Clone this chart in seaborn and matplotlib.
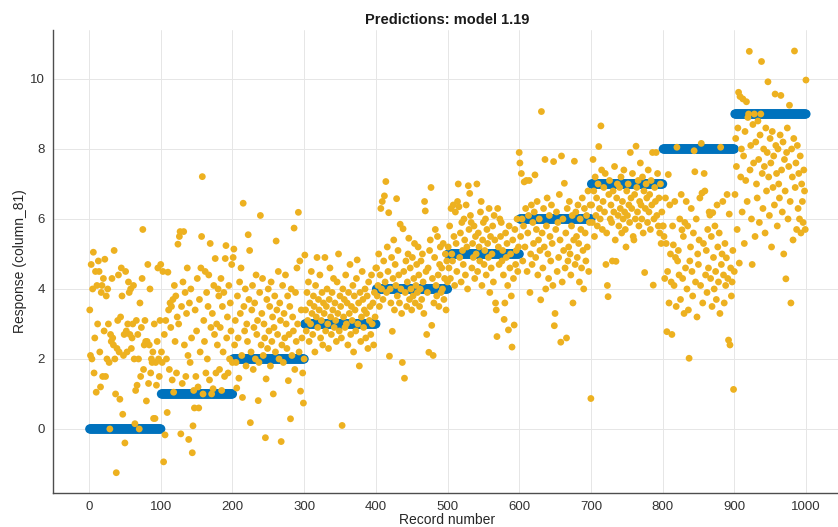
import numpy as np
import pandas as pd
import matplotlib
matplotlib.use("Agg")
import matplotlib.pyplot as plt
import seaborn as sns

# ---------------- data ----------------
seg0 = [3.4, 2.1, 4.7, 2.0, 4.0, 5.05, 1.6, 2.6, 4.5, 1.05,
        4.1, 3.0, 4.8, 4.5, 2.2, 1.2, 3.9, 4.1, 1.5, 4.3,
        2.8, 4.85, 1.5, 3.8, 2.0, 4.0, 3.0, 1.9, 0.0, 2.7,
        2.5, 4.3, 2.6, 2.4, 5.1, 2.0, 1.0, -1.25, 2.3, 3.1,
        4.4, 2.2, 0.85, 3.2, 4.6, 3.8, 0.42, 2.1, 2.7, -0.4,
        4.5, 2.8, 2.2, 3.0, 4.2, 3.9, 2.7, 4.0, 2.3, 2.6,
        3.0, 4.1, 2.0, 0.15, 1.1, 3.1, 1.25, 2.7, 2.0, 0.0,
        3.6, 1.5, 2.9, 4.3, 5.7, 1.7, 2.4, 3.1, 2.5, 0.8,
        2.5, 4.7, 1.3, 2.4, 4.0, 1.6, 2.0, 1.9, 2.2, 0.3,
        3.0, 0.3, 1.9, 1.25, 2.5, 4.6, 2.0, 1.5, 3.1, 4.7]
seg1 = [2.2, 1.9, 4.5, -0.94, 2.7, -0.17, 3.1, 2.0, 0.47, 4.48,
        3.4, 1.7, 3.6, 2.9, 3.5, 1.4, 3.7, 1.05, 4.1, 2.5,
        3.8, 1.6, 3.2, 5.28, 3.0, 5.5, 5.64, -0.14, 3.5, 1.3,
        4.2, 5.64, 2.4, 3.9, 1.5, 3.3, 4.6, 2.1, -0.3, 3.6,
        1.9, 4.0, 2.6, -0.68, 0.09, 1.1, 0.6, 3.4, 1.5, 2.8,
        4.3, 1.2, 0.6, 3.7, 2.2, 4.6, 5.5, 7.21, 1.0, 3.1,
        2.5, 4.5, 1.6, 3.9, 2.0, 3.5, 4.4, 1.4, 5.3, 2.9,
        1.0, 3.3, 1.15, 4.1, 2.7, 4.87, 1.6, 3.0, 2.4, 4.0,
        3.8, 1.7, 2.9, 4.3, 1.1, 3.5, 2.2, 3.9, 1.5, 4.87,
        5.24, 2.6, 3.2, 1.6, 4.1, 2.0, 3.6, 2.8, 4.7, 1.9]
seg2 = [4.9, 5.14, 2.4, 3.1, 1.9, 1.17, 3.8, 2.6, 1.45, 4.2,
        3.3, 4.6, 2.1, 0.9, 6.45, 3.5, 2.8, 4.0, 1.8, 3.0,
        2.5, 5.55, 3.7, 5.1, 0.18, 2.2, 3.4, 4.1, 1.7, 2.9,
        3.6, 2.0, 4.4, 2.7, 3.1, 0.81, 1.9, 3.9, 6.1, 2.4,
        3.3, 4.3, 2.1, 3.0, 2.6, -0.25, 1.43, 3.7, 2.3, 4.0,
        2.8, 3.5, 1.8, 4.2, 2.5, 3.2, 1.0, 2.9, 3.8, 2.2,
        5.37, 3.4, 2.7, 4.5, 2.0, 3.6, 3.1, -0.36, 2.4, 4.1,
        1.9, 3.3, 2.6, 4.4, 3.0, 2.3, 3.8, 1.38, 2.7, 3.5,
        0.29, 4.0, 2.1, 3.2, 2.8, 5.74, 1.7, 3.9, 2.5, 4.6,
        3.0, 6.19, 2.2, 4.8, 1.08, 3.4, 2.6, 1.6, 0.74, 2.0]
seg3 = [4.97, 3.4, 2.8, 3.9, 3.1, 4.2, 2.5, 3.6, 3.0, 4.5,
        3.3, 2.7, 3.8, 3.5, 2.2, 4.1, 3.2, 4.9, 2.9, 3.7,
        3.4, 4.4, 2.6, 3.1, 3.9, 2.4, 3.6, 3.3, 4.9, 2.8,
        3.5, 4.0, 3.0, 2.3, 3.7, 4.6, 3.2, 2.7, 3.9, 3.4,
        4.3, 2.9, 3.6, 3.1, 2.5, 4.2, 3.3, 5.0, 2.8, 3.8,
        3.5, 2.6, 0.1, 4.0, 3.2, 3.7, 2.9, 4.4, 3.0, 3.6,
        2.4, 3.9, 3.3, 4.7, 2.7, 3.5, 3.1, 4.1, 2.2, 3.8,
        3.4, 2.8, 4.3, 4.83, 3.0, 3.6, 1.8, 3.9, 2.5, 3.2,
        4.5, 3.7, 2.9, 3.4, 4.0, 2.6, 3.3, 3.8, 2.3, 4.2,
        3.1, 3.5, 2.7, 4.4, 3.0, 3.6, 2.4, 3.9, 3.2, 4.6]
seg4 = [4.6, 3.8, 4.1, 5.0, 3.5, 4.4, 6.3, 4.0, 6.5, 3.7,
        4.8, 6.66, 4.2, 7.07, 3.9, 5.2, 4.5, 6.18, 2.08, 4.0,
        3.6, 4.9, 2.79, 4.3, 5.4, 3.4, 4.7, 4.1, 6.58, 3.8,
        5.1, 4.4, 3.6, 5.85, 4.0, 3.3, 1.9, 5.72, 4.5, 1.45,
        3.9, 4.8, 3.5, 4.2, 5.0, 5.45, 3.7, 4.6, 4.0, 3.4,
        4.9, 3.8, 4.3, 5.3, 3.6, 4.1, 4.7, 3.9, 5.2, 4.4,
        3.5, 4.0, 4.8, 3.7, 5.0, 4.2, 3.3, 6.5, 6.23, 4.5,
        2.7, 3.9, 4.6, 2.19, 5.1, 5.4, 6.9, 2.96, 4.3, 2.1,
        3.6, 4.9, 5.7, 4.1, 3.8, 5.5, 4.4, 3.5, 4.7, 5.2,
        3.9, 4.6, 4.0, 5.3, 3.7, 4.3, 5.0, 3.4, 4.8, 4.2]
seg5 = [5.2, 4.6, 5.8, 4.3, 6.3, 5.0, 4.8, 6.4, 5.5, 4.1,
        6.2, 5.3, 4.5, 6.5, 7.0, 6.35, 4.9, 5.6, 4.2, 5.9,
        5.1, 4.7, 6.0, 5.4, 4.4, 6.4, 5.2, 4.0, 6.95, 5.7,
        6.73, 6.1, 5.9, 4.6, 5.3, 4.9, 5.8, 4.3, 5.5, 5.0,
        7.0, 4.5, 5.6, 5.2, 4.8, 6.2, 6.5, 4.1, 5.4, 5.9,
        4.7, 5.1, 6.0, 4.4, 5.7, 5.3, 4.9, 6.3, 3.9, 5.5,
        4.6, 5.0, 5.8, 4.2, 6.1, 5.4, 3.6, 3.4, 2.64, 6.3,
        5.2, 4.7, 6.0, 5.5, 5.9, 4.8, 5.1, 4.4, 3.13, 3.6,
        5.6, 4.9, 5.3, 4.1, 2.83, 5.8, 4.6, 5.0, 3.8, 2.34,
        5.4, 4.3, 2.97, 5.7, 4.7, 5.1, 6.0, 4.5, 5.2, 7.9]
seg6 = [7.6, 5.5, 7.3, 6.0, 4.8, 5.8, 7.06, 5.2, 6.3, 7.1,
        4.5, 5.6, 6.1, 7.1, 3.9, 5.0, 6.4, 4.7, 5.9, 5.3,
        6.2, 7.26, 4.9, 5.7, 6.5, 4.4, 5.4, 6.0, 5.1, 3.69,
        9.07, 5.6, 4.6, 6.3, 5.2, 7.7, 4.0, 5.8, 6.6, 5.0,
        4.3, 6.1, 5.5, 4.8, 6.4, 5.3, 4.1, 7.64, 2.95, 3.3,
        5.7, 6.2, 4.5, 5.9, 4.9, 6.7, 5.4, 2.48, 7.8, 4.2,
        6.0, 5.1, 7.02, 4.6, 5.6, 2.6, 6.3, 4.8, 5.2, 6.5,
        5.0, 4.4, 5.8, 6.1, 3.6, 5.4, 7.65, 4.7, 6.2, 5.5,
        4.9, 6.4, 5.3, 4.2, 6.0, 5.7, 4.6, 6.6, 5.1, 4.0,
        6.3, 5.6, 4.8, 6.1, 5.2, 6.8, 4.5, 5.9, 6.4, 0.87]
seg7 = [6.4, 5.9, 7.7, 6.8, 5.5, 7.2, 6.1, 6.6, 5.8, 7.0,
        8.07, 6.3, 6.0, 8.66, 7.4, 5.7, 6.5, 6.9, 6.2, 7.3,
        4.7, 5.6, 4.1, 3.78, 6.7, 7.1, 6.0, 6.4, 5.9, 4.8,
        6.8, 6.2, 7.5, 5.4, 4.79, 6.6, 7.0, 6.1, 5.8, 6.9,
        6.3, 7.2, 5.6, 6.5, 6.0, 7.4, 6.2, 5.7, 5.2, 6.8,
        6.1, 7.0, 6.4, 5.9, 7.9, 6.6, 6.3, 7.3, 5.5, 5.4,
        6.7, 6.0, 8.08, 6.9, 6.2, 7.1, 5.8, 6.5, 7.6, 6.4,
        6.0, 7.2, 5.6, 6.8, 4.47, 6.3, 7.0, 6.6, 5.9, 7.4,
        6.2, 6.7, 5.7, 7.1, 6.4, 7.9, 4.11, 6.0, 6.9, 6.5,
        7.9, 6.1, 7.3, 5.8, 6.6, 5.6, 7.0, 5.3, 6.2, 5.8]
seg8 = [5.8, 5.5, 4.3, 6.6, 5.3, 2.78, 4.5, 7.27, 3.6, 6.4,
        5.0, 4.2, 2.7, 5.8, 5.26, 4.1, 6.5, 4.9, 3.5, 8.05,
        4.8, 5.1, 4.4, 6.0, 3.7, 6.7, 5.69, 4.3, 5.5, 3.3,
        5.9, 4.6, 6.5, 4.0, 5.8, 3.4, 2.02, 4.8, 5.2, 6.3,
        4.5, 3.8, 5.6, 7.95, 7.35, 4.2, 6.0, 3.2, 5.0, 4.7,
        5.4, 6.6, 4.1, 8.16, 6.74, 3.6, 5.3, 7.3, 6.8, 4.4,
        5.1, 3.9, 5.7, 4.6, 6.2, 6.11, 4.3, 5.5, 3.5, 6.18,
        4.9, 4.0, 5.8, 4.5, 3.7, 6.4, 5.2, 4.2, 5.6, 3.3,
        8.05, 4.7, 5.0, 6.5, 4.4, 3.6, 5.3, 4.1, 4.89, 6.7,
        4.3, 2.54, 6.14, 2.4, 4.6, 3.8, 4.2, 5.1, 1.13, 4.5]
seg9 = [6.7, 8.3, 7.5, 5.7, 8.6, 9.62, 4.74, 9.5, 7.2, 8.0,
        6.2, 9.43, 7.8, 5.3, 8.5, 7.1, 9.35, 6.5, 8.9, 9.0,
        10.79, 7.4, 8.1, 6.0, 4.7, 8.7, 7.6, 9.0, 5.5, 8.2,
        7.0, 6.6, 8.8, 7.7, 5.9, 8.4, 9.0, 10.5, 7.3, 6.3,
        8.0, 7.5, 5.6, 8.6, 6.8, 7.9, 9.92, 7.2, 6.1, 8.3,
        7.6, 5.2, 8.5, 6.9, 7.8, 6.4, 9.57, 8.1, 7.3, 5.8,
        8.0, 7.0, 6.6, 8.4, 9.53, 7.4, 6.2, 8.2, 5.0, 7.7,
        6.8, 4.29, 7.9, 8.6, 6.0, 7.5, 9.25, 6.5, 3.6, 8.0,
        7.2, 5.4, 8.3, 10.8, 6.9, 7.6, 5.7, 8.1, 6.3, 7.3,
        6.0, 7.8, 5.6, 7.0, 6.5, 5.9, 7.4, 6.8, 5.7, 9.97]

pred_levels = [0, 1, 2, 3, 4, 5, 6, 7, 8, 9]
records_per_level = 100
x_ticks = [0, 100, 200, 300, 400, 500, 600, 700, 800, 900, 1000]
y_ticks = [0, 2, 4, 6, 8, 10]

response = np.concatenate([seg0, seg1, seg2, seg3, seg4, seg5, seg6, seg7, seg8, seg9])
prediction = np.repeat(pred_levels, records_per_level)
record = np.arange(1, len(response) + 1)
df = pd.DataFrame({"record": record, "response": response, "prediction": prediction})

# ---------------- style ----------------
sns.set_theme(style="white")
plt.rcParams["font.family"] = ["Liberation Sans", "DejaVu Sans"]

fig = plt.figure(figsize=(8.38, 5.27), dpi=100)
ax_l, ax_r, ax_t, ax_b = 53.2, 841.8, 30.0, 493.0
ax = fig.add_axes([ax_l / 838, (527 - ax_b) / 527, (ax_r - ax_l) / 838, (ax_b - ax_t) / 527])

blue = "#0072BD"
orange = "#EDB120"

sns.scatterplot(data=df, x="record", y="prediction", ax=ax, color=blue,
                s=44, edgecolor="none", linewidth=0, zorder=2, legend=False)
sns.scatterplot(data=df, x="record", y="response", ax=ax, color=orange,
                s=24, edgecolor="none", linewidth=0, zorder=3, legend=False)

ax.set_xlim(-50, 1050)
ax.set_ylim(-1.83, 11.4)
ax.set_xticks(x_ticks)
ax.set_yticks(y_ticks)
ax.grid(True, color="#e6e6e6", linewidth=0.7, zorder=0)
ax.set_axisbelow(True)

for side in ["top", "right"]:
    ax.spines[side].set_visible(False)
for side in ["left", "bottom"]:
    ax.spines[side].set_color("#4d4d4d")
    ax.spines[side].set_linewidth(1.0)

ax.tick_params(axis="both", direction="out", length=3.5, width=0.8,
               color="#4d4d4d", labelsize=9.5, labelcolor="#333333", pad=2.5)

ax.set_title("Predictions: model 1.19", fontsize=10.5, fontweight="bold",
             color="#1a1a1a", pad=4)
ax.set_xlabel("Record number", fontsize=10, color="#262626")
ax.set_ylabel("Response (column_81)", fontsize=10, color="#262626")
w = ax_r - ax_l
h = ax_b - ax_t
ax.xaxis.set_label_coords(0.5, (ax_b - 512.5) / h)
ax.yaxis.set_label_coords((27 - ax_l) / w, 0.5)

fig.savefig("out.png", dpi=100)
